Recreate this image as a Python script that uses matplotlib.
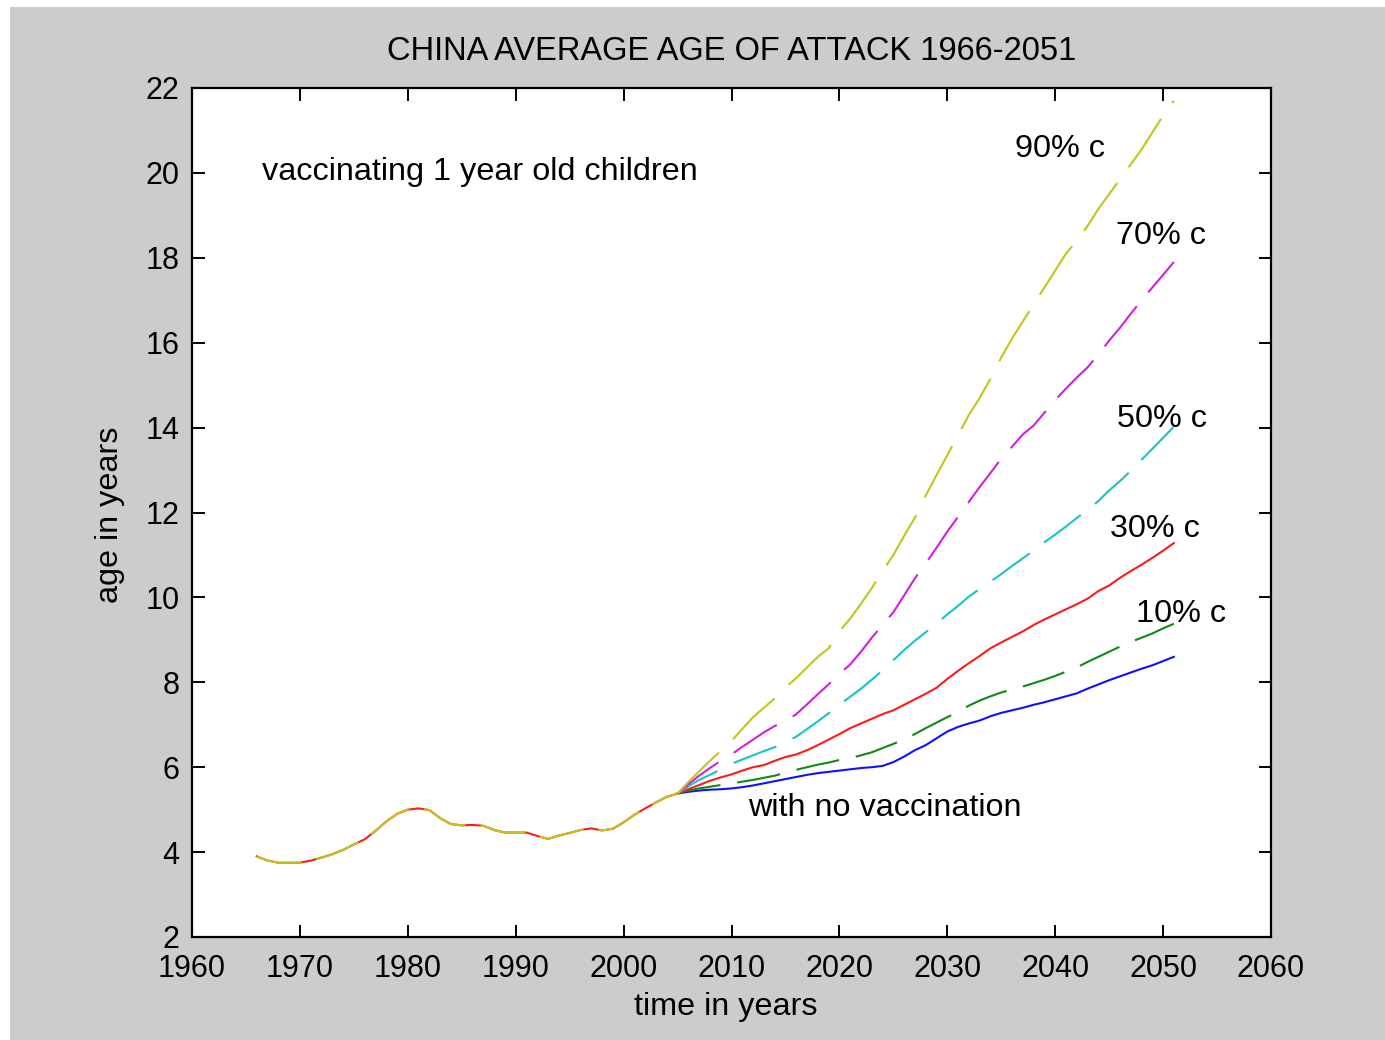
import matplotlib
matplotlib.use('Agg')
import matplotlib.pyplot as plt
from matplotlib.patches import Rectangle

plt.rcParams['font.family'] = ['Liberation Sans', 'DejaVu Sans']
plt.rcParams['lines.scale_dashes'] = False

# ---------------- data ----------------
hist_years = list(range(1966, 2006))
hist_age = [3.90, 3.80, 3.75, 3.75, 3.75, 3.80, 3.87, 3.95, 4.05, 4.18,
            4.30, 4.50, 4.72, 4.90, 5.00, 5.03, 4.99, 4.80, 4.66, 4.63,
            4.64, 4.62, 4.52, 4.46, 4.46, 4.46, 4.38, 4.31, 4.39, 4.45,
            4.52, 4.56, 4.51, 4.55, 4.70, 4.88, 5.03, 5.17, 5.30, 5.38]

future_years = list(range(2005, 2052))
no_vaccination = [5.38, 5.42, 5.45, 5.47, 5.48, 5.50, 5.53, 5.57, 5.62, 5.67,
                  5.72, 5.77, 5.82, 5.86, 5.89, 5.92, 5.95, 5.98, 6.00, 6.03,
                  6.12, 6.25, 6.40, 6.52, 6.68, 6.84, 6.95, 7.03, 7.10, 7.20,
                  7.28, 7.34, 7.40, 7.47, 7.53, 7.60, 7.67, 7.74, 7.85, 7.95,
                  8.05, 8.14, 8.23, 8.32, 8.40, 8.50, 8.60]
cov10 = [5.38, 5.45, 5.50, 5.54, 5.58, 5.62, 5.66, 5.70, 5.75, 5.80,
         5.87, 5.94, 6.00, 6.06, 6.11, 6.17, 6.21, 6.28, 6.35, 6.45,
         6.55, 6.65, 6.78, 6.92, 7.05, 7.18, 7.30, 7.45, 7.57, 7.67,
         7.76, 7.83, 7.90, 7.98, 8.06, 8.15, 8.25, 8.35, 8.48, 8.60,
         8.72, 8.84, 8.95, 9.05, 9.15, 9.27, 9.38]
cov30 = [5.38, 5.48, 5.58, 5.68, 5.76, 5.83, 5.92, 6.00, 6.05, 6.15,
         6.24, 6.30, 6.40, 6.52, 6.65, 6.78, 6.92, 7.03, 7.14, 7.25,
         7.34, 7.47, 7.60, 7.73, 7.87, 8.08, 8.27, 8.45, 8.62, 8.80,
         8.94, 9.07, 9.20, 9.35, 9.48, 9.60, 9.72, 9.84, 9.97, 10.15,
         10.28, 10.46, 10.62, 10.77, 10.93, 11.10, 11.28]
cov50 = [5.38, 5.55, 5.70, 5.82, 5.95, 6.08, 6.18, 6.28, 6.38, 6.47,
         6.58, 6.72, 6.90, 7.08, 7.27, 7.47, 7.66, 7.85, 8.06, 8.28,
         8.52, 8.76, 8.98, 9.18, 9.38, 9.60, 9.80, 10.02, 10.20, 10.37,
         10.55, 10.74, 10.92, 11.10, 11.30, 11.48, 11.67, 11.87, 12.06, 12.27,
         12.52, 12.74, 12.98, 13.24, 13.50, 13.76, 14.02]
cov70 = [5.38, 5.60, 5.80, 5.98, 6.15, 6.30, 6.48, 6.65, 6.82, 6.97,
         7.08, 7.25, 7.48, 7.72, 7.95, 8.20, 8.42, 8.72, 9.05, 9.35,
         9.65, 10.05, 10.45, 10.80, 11.17, 11.55, 11.90, 12.25, 12.60, 12.93,
         13.27, 13.55, 13.84, 14.05, 14.35, 14.65, 14.92, 15.18, 15.42, 15.72,
         16.05, 16.35, 16.68, 17.00, 17.30, 17.60, 17.90]
cov90 = [5.38, 5.65, 5.90, 6.15, 6.38, 6.62, 6.90, 7.18, 7.40, 7.62,
         7.88, 8.10, 8.35, 8.60, 8.80, 9.20, 9.50, 9.85, 10.22, 10.62,
         11.00, 11.45, 11.88, 12.40, 12.88, 13.35, 13.82, 14.30, 14.70, 15.15,
         15.65, 16.10, 16.50, 16.90, 17.30, 17.70, 18.10, 18.40, 18.75, 19.15,
         19.50, 19.85, 20.20, 20.55, 20.95, 21.35, 21.70]

x_ticks = list(range(1960, 2061, 10))
y_ticks = list(range(2, 23, 2))

# ---------------- figure ----------------
FS_TICK = 22
FS = 23.3
fig = plt.figure(figsize=(13.85, 10.4), dpi=100)
fig.patch.set_facecolor('white')
fig.patches.append(Rectangle((10 / 1385, 0), 1, 1 - 7 / 1040,
                             transform=fig.transFigure, facecolor='#cccccc',
                             edgecolor='none', zorder=-10))
ax = fig.add_axes([192 / 1385, 103 / 1040, 1079 / 1385, 849 / 1040])
ax.set_facecolor('white')

LW = 1.5
BLUE = '#1010ff'
GREEN = '#108a10'
RED = '#ff1a1a'
CYAN = '#18c4c4'
MAGENTA = '#d21ee0'
YELLOW = '#c4c41a'

# historical part (all scenarios coincide)
ax.plot(hist_years, hist_age, color=RED, lw=LW, zorder=2)
ax.plot(hist_years, hist_age, color=YELLOW, lw=LW, dashes=(33, 10.8), zorder=3)

# scenarios
ax.plot(future_years, no_vaccination, color=BLUE, lw=LW, zorder=2)
ax.plot(future_years, cov10, color=GREEN, lw=LW, dashes=(31.5, 12.2), zorder=2)
ax.plot(future_years, cov30, color=RED, lw=LW, zorder=2)
ax.plot(future_years, cov50, color=CYAN, lw=LW, dashes=(33, 13), zorder=2)
ax.plot(future_years, cov70, color=MAGENTA, lw=LW, dashes=(37, 13), zorder=2)
ax.plot(future_years, cov90, color=YELLOW, lw=LW, dashes=(42, 14), zorder=2)

ax.set_xlim(1960, 2060)
ax.set_ylim(2, 22)
ax.set_xticks(x_ticks)
ax.set_yticks(y_ticks)
ax.tick_params(direction='in', top=True, right=True, length=9, width=1.4,
               labelsize=FS_TICK, pad=12)
ax.tick_params(axis='y', pad=9)
for s in ax.spines.values():
    s.set_linewidth(1.6)
    s.set_color('black')

ax.set_title('CHINA AVERAGE AGE OF ATTACK 1966-2051', fontsize=23.5, pad=20)
ax.set_xlabel('time in years', fontsize=FS, va='center')
ax.xaxis.set_label_coords(0.495, -0.0825)
ax.set_ylabel('age in years', fontsize=FS, va='center')
ax.yaxis.set_label_coords(-0.076, 0.497)

ax.text(1966.5, 20.02, 'vaccinating 1 year old children', fontsize=FS, va='center', ha='left')
ax.text(2036.3, 20.56, '90% c', fontsize=FS, va='center', ha='left')
ax.text(2045.6, 18.51, '70% c', fontsize=FS, va='center', ha='left')
ax.text(2045.7, 14.20, '50% c', fontsize=FS, va='center', ha='left')
ax.text(2045.1, 11.60, '30% c', fontsize=FS, va='center', ha='left')
ax.text(2047.5, 9.61, '10% c', fontsize=FS, va='center', ha='left')
ax.text(2011.5, 5.04, 'with no vaccination', fontsize=FS, va='center', ha='left')

fig.savefig('out.png', dpi=100)
